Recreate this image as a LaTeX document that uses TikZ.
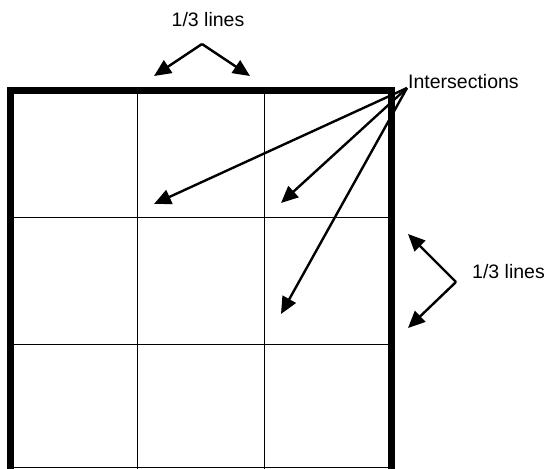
\documentclass[tikz,border=0pt]{standalone}
\usepackage{fontspec}
\setmainfont{Liberation Sans}
\usetikzlibrary{arrows.meta}
\begin{document}
\begin{tikzpicture}[x=1pt,y=-1pt,
  border/.style={line width=7pt,line join=miter},
  gridline/.style={line width=1.6pt},
  pointer/.style={line width=2.4pt,-{Triangle[length=17pt,width=15pt]}},
  label/.style={font=\fontsize{19.5}{22}\selectfont,inner sep=0pt}]
\useasboundingbox (0,0) rectangle (550,469);
% grid
\draw[gridline] (137.5,90.5) -- (137.5,469);
\draw[gridline] (264.5,90.5) -- (264.5,469);
\draw[gridline] (10.5,217.5) -- (391.5,217.5);
\draw[gridline] (10.5,344.5) -- (391.5,344.5);
\draw[gridline] (10.5,467.5) -- (391.5,467.5);
\draw[border] (10.5,472) -- (10.5,90.5) -- (391.5,90.5) -- (391.5,472);
% labels
\node[label] (top) at (208,20) {1/3 lines};
\node[label,anchor=west] (inter) at (408,82) {Intersections};
\node[label,anchor=west] (side) at (472,272) {1/3 lines};
% top arrows
\coordinate (tapex) at (202,44);
\coordinate (tl) at (154,76);
\coordinate (tr) at (250,76);
\draw[pointer] (tapex) -- (tl);
\draw[pointer] (tapex) -- (tr);
% intersection arrows
\coordinate (iorg) at (407,88);
\coordinate (i1) at (154,204);
\coordinate (i2) at (281,203);
\coordinate (i3) at (281,314);
\draw[pointer] (iorg) -- (i1);
\draw[pointer] (iorg) -- (i2);
\draw[pointer] (iorg) -- (i3);
% side arrows
\coordinate (sapex) at (456,282);
\coordinate (su) at (408,234);
\coordinate (sd) at (408,328);
\draw[pointer] (sapex) -- (su);
\draw[pointer] (sapex) -- (sd);
\end{tikzpicture}
\end{document}
